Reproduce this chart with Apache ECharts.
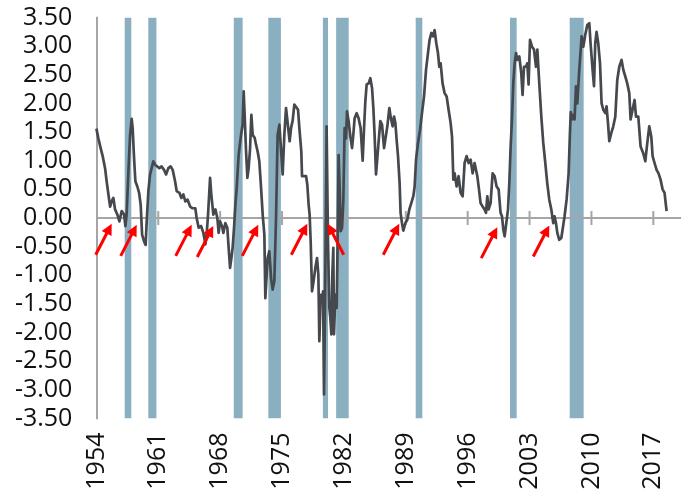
<!DOCTYPE html>
<html>
<head>
<meta charset="utf-8">
<script src="https://cdn.jsdelivr.net/npm/echarts/dist/echarts.min.js"></script>
<style>
html,body{margin:0;padding:0;background:#fff;}
#chart{width:681px;height:497px;}
</style>
</head>
<body>
<div id="chart"></div>
<script>
// ---- data ----
// spread value by date (decimal year)
const spreadByDate = [
[1954.38,1.56],[1954.60,1.39],[1954.86,1.22],[1955.09,1.08],[1955.36,0.87],[1955.54,0.64],[1955.74,0.41],[1955.93,0.20],[1956.11,0.29],[1956.30,0.35],[1956.49,0.15],[1956.75,0.06],[1956.98,-0.06],[1957.24,0.12],[1957.51,0.06],[1957.66,-0.14],[1957.80,0.06],[1958.00,0.81],[1958.19,1.45],[1958.37,1.73],[1958.48,1.57],[1958.64,1.05],[1958.79,0.64],[1959.01,0.55],[1959.21,0.44],[1959.39,0.23],[1959.55,-0.29],[1959.77,-0.41],[1959.95,-0.47],[1960.07,-0.06],[1960.26,0.47],[1960.45,0.76],[1960.63,0.87],[1960.82,0.99],[1961.02,0.93],[1961.20,0.90],[1961.50,0.87],[1961.76,0.90],[1962.03,0.84],[1962.26,0.76],[1962.52,0.87],[1962.78,0.90],[1963.01,0.84],[1963.28,0.64],[1963.46,0.47],[1963.77,0.44],[1963.99,0.35],[1964.22,0.41],[1964.44,0.29],[1964.70,0.32],[1964.98,0.20],[1965.27,0.17],[1965.57,0.17],[1965.72,0.0],[1965.95,-0.17],[1966.22,-0.14],[1966.48,-0.26],[1966.71,-0.46],[1966.85,-0.29],[1967.01,0.06],[1967.24,0.70],[1967.38,0.41],[1967.61,0.06],[1967.84,0.15],[1968.06,0.0],[1968.21,-0.26],[1968.37,-0.06],[1968.59,-0.14],[1968.74,-0.26],[1968.97,-0.09],[1969.19,-0.17],[1969.34,-0.52],[1969.50,-0.87],[1969.65,-0.70],[1969.79,-0.52],[1969.95,-0.17],[1970.10,0.23],[1970.25,0.52],[1970.47,1.10],[1970.74,1.45],[1970.92,1.63],[1971.04,2.21],[1971.15,1.80],[1971.31,1.16],[1971.46,0.70],[1971.60,0.87],[1971.76,1.20],[1971.91,1.80],[1972.06,1.45],[1972.28,1.40],[1972.44,1.28],[1972.62,1.16],[1972.81,0.99],[1973.01,0.52],[1973.19,0.06],[1973.38,-0.29],[1973.49,-1.40],[1973.75,-0.70],[1973.94,-0.58],[1974.14,-1.05],[1974.32,-1.25],[1974.51,-1.10],[1974.70,0.0],[1974.88,1.45],[1975.08,1.63],[1975.27,1.66],[1975.45,0.76],[1975.64,1.45],[1975.83,1.92],[1976.01,1.92],[1976.24,1.34],[1976.40,1.57],[1976.58,1.70],[1976.77,1.98],[1976.96,1.95],[1977.19,1.89],[1977.34,1.57],[1977.56,1.16],[1977.64,0.73],[1977.82,0.70],[1978.10,0.73],[1978.24,0.58],[1978.39,0.23],[1978.50,0.06],[1978.62,-0.41],[1978.77,-1.28],[1978.95,-1.10],[1979.15,-0.87],[1979.34,-0.70],[1979.49,-0.99],[1979.60,-2.15],[1979.75,-1.34],[1979.90,-1.45],[1980.02,-1.28],[1980.13,-3.08],[1980.20,-2.15],[1980.31,-0.41],[1980.42,1.60],[1980.58,-0.41],[1980.73,-1.57],[1980.84,-1.74],[1980.96,-2.03],[1981.07,-0.99],[1981.18,-0.52],[1981.26,-2.03],[1981.41,-1.34],[1981.56,-1.57],[1981.67,-0.41],[1981.78,1.10],[1981.90,0.52],[1982.01,-0.23],[1982.17,-0.17],[1982.31,0.29],[1982.46,1.57],[1982.62,1.39],[1982.73,1.86],[1982.91,1.69],[1983.11,1.42],[1983.30,1.22],[1983.44,1.45],[1983.59,1.74],[1983.82,1.83],[1984.04,1.74],[1984.27,1.57],[1984.50,1.00],[1984.66,1.57],[1984.80,2.03],[1984.95,2.33],[1985.18,2.35],[1985.37,2.44],[1985.56,2.27],[1985.71,1.92],[1985.85,1.45],[1986.01,0.76],[1986.16,1.05],[1986.31,1.34],[1986.50,1.69],[1986.69,1.63],[1986.92,1.22],[1987.14,1.19],[1987.29,1.60],[1987.52,1.92],[1987.66,1.77],[1987.89,1.60],[1988.05,1.77],[1988.20,1.66],[1988.34,1.37],[1988.50,1.08],[1988.68,0.61],[1988.79,0.09],[1988.95,-0.09],[1989.10,-0.22],[1989.33,-0.09],[1989.55,-0.03],[1989.78,0.15],[1990.00,0.26],[1990.23,0.38],[1990.38,0.55],[1990.54,1.02],[1990.76,1.31],[1990.99,1.54],[1991.21,1.83],[1991.44,2.12],[1991.67,2.59],[1991.89,2.88],[1992.07,3.11],[1992.27,3.23],[1992.46,3.17],[1992.64,3.28],[1992.83,3.05],[1993.02,2.88],[1993.17,2.64],[1993.32,2.70],[1993.54,2.35],[1993.77,2.18],[1994.00,2.12],[1994.22,1.89],[1994.45,1.66],[1994.61,1.42],[1994.76,0.67],[1994.90,0.78],[1995.13,0.55],[1995.35,0.73],[1995.58,0.44],[1995.81,0.38],[1996.03,0.96],[1996.26,1.08],[1996.49,0.96],[1996.71,1.02],[1996.94,0.78],[1997.16,0.96],[1997.47,0.73],[1997.66,0.50],[1997.84,0.26],[1998.07,0.20],[1998.29,0.15],[1998.45,0.09],[1998.60,0.38],[1998.75,0.15],[1998.97,0.26],[1999.20,0.78],[1999.43,0.73],[1999.65,0.55],[1999.88,0.50],[2000.10,0.09],[2000.26,0.03],[2000.41,-0.20],[2000.56,-0.32],[2000.78,-0.35],[2000.94,0.15],[2001.09,0.61],[2001.24,1.25],[2001.39,1.72],[2001.54,2.35],[2001.69,2.70],[2001.85,2.88],[2001.99,2.76],[2002.22,2.82],[2002.44,2.53],[2002.59,2.15],[2002.75,2.64],[2002.98,2.64],[2003.12,2.70],[2003.27,2.33],[2003.43,3.11],[2003.66,2.99],[2003.88,2.94],[2004.11,2.64],[2004.26,2.94],[2004.48,2.35],[2004.71,1.77],[2004.93,1.31],[2005.16,0.96],[2005.38,0.61],[2005.61,0.32],[2005.84,0.15],[2006.06,-0.09],[2006.21,0.03],[2006.37,-0.09],[2006.52,-0.26],[2006.74,-0.38],[2006.97,-0.35],[2007.12,-0.20],[2007.34,0.03],[2007.57,0.32],[2007.80,0.78],[2007.93,1.40],[2008.04,1.85],[2008.18,1.72],[2008.33,1.80],[2008.47,1.72],[2008.63,2.30],[2008.78,2.00],[2009.01,2.60],[2009.27,3.17],[2009.46,2.99],[2009.68,3.20],[2009.91,3.37],[2010.14,3.40],[2010.28,3.05],[2010.51,2.59],[2010.67,2.30],[2010.81,3.05],[2010.96,3.25],[2011.15,3.05],[2011.35,2.70],[2011.53,2.00],[2011.72,1.89],[2011.95,1.83],[2012.09,1.95],[2012.25,1.66],[2012.40,1.34],[2012.62,1.48],[2012.85,1.60],[2013.08,1.77],[2013.30,2.41],[2013.53,2.64],[2013.79,2.76],[2013.98,2.59],[2014.21,2.47],[2014.43,2.35],[2014.66,2.18],[2014.81,1.72],[2015.03,1.89],[2015.26,2.06],[2015.42,1.77],[2015.68,1.77],[2015.94,1.25],[2016.24,1.13],[2016.47,0.99],[2016.70,1.31],[2016.92,1.60],[2017.15,1.42],[2017.30,1.08],[2017.52,0.96],[2017.75,0.84],[2017.97,0.78],[2018.20,0.67],[2018.43,0.50],[2018.65,0.44],[2018.88,0.12]
];

// recession periods (decimal years)
const recessionStart = [1957.58, 1960.25, 1969.92, 1973.83, 1980.00, 1981.50, 1990.50, 2001.17, 2007.92];
const recessionEnd   = [1958.33, 1961.17, 1970.92, 1975.25, 1980.58, 1982.92, 1991.25, 2001.92, 2009.50];

// arrow annotations: tip date, tip value, direction (+1 points up-right, -1 points up-left)
const arrowDate  = [1956.11, 1958.94, 1965.16, 1967.60, 1972.69, 1978.24, 1980.55, 1988.64, 1999.73, 2005.61];
const arrowValue = [-0.10, -0.12, -0.12, -0.14, -0.12, -0.10, -0.10, -0.10, -0.16, -0.13];
const arrowDir   = [1, 1, 1, 1, 1, 1, -1, 1, 1, 1];

// axis tick labels (one every 7 years)
const tickLabels = ['1954','1961','1968','1975','1982','1989','1996','2003','2010','2017'];
const yMin = -3.5, yMax = 3.5, yStep = 0.5;

// ---- chart ----
const AXIS_START = 1954.38;           // date at the left edge of the plot
const MONTHS_PER_LABEL = 84;          // 7 years
const X_MAX = 840;
const toX = yr => (yr - AXIS_START) * 12;

const FONT = '"Open Sans", "DejaVu Sans", sans-serif';
const AXIS_GRAY = '#a5a5a5';

const chart = echarts.init(document.getElementById('chart'), null, {renderer: 'canvas'});

const option = {
  animation: false,
  backgroundColor: '#ffffff',
  grid: {left: 96.4, top: 17.5, bottom: 78.5, width: 618.8, containLabel: false, outerBoundsMode: 'none'},
  xAxis: {
    type: 'value', min: 0, max: X_MAX, interval: MONTHS_PER_LABEL, position: 'bottom',
    axisLine: {show: false, onZero: false},
    axisTick: {show: false},
    splitLine: {show: false},
    axisLabel: {
      rotate: 90, margin: 14, fontSize: 25, fontFamily: FONT, color: '#111',
      showMinLabel: true, showMaxLabel: true, hideOverlap: false,
      formatter: v => {
        const i = Math.round(v / MONTHS_PER_LABEL);
        return (Math.abs(v - i * MONTHS_PER_LABEL) < 1e-6 && tickLabels[i]) ? tickLabels[i] : '';
      }
    }
  },
  yAxis: {
    type: 'value', min: yMin, max: yMax, interval: yStep,
    axisLine: {show: true, onZero: false, lineStyle: {color: AXIS_GRAY, width: 2}},
    axisTick: {show: false},
    splitLine: {show: false},
    axisLabel: {
      margin: 24, fontSize: 25, fontFamily: FONT, color: '#111',
      showMinLabel: true, showMaxLabel: true,
      formatter: v => v.toFixed(2)
    }
  },
  series: [
    {
      type: 'custom', name: 'recessions', z: 1, clip: true,
      encode: {x: [0, 1]},
      data: recessionStart.map((s, i) => [toX(s), toX(recessionEnd[i])]),
      renderItem: (params, api) => {
        const a = api.coord([api.value(0), yMax]);
        const b = api.coord([api.value(1), yMin]);
        return {type: 'rect', shape: {x: a[0], y: a[1], width: b[0] - a[0], height: b[1] - a[1]},
                style: {fill: '#89afc1'}};
      }
    },
    {
      // zero line with crossing ticks at each labelled year
      type: 'custom', name: 'zeroAxis', z: 2, clip: false, silent: true,
      encode: {x: 0, y: 1},
      data: tickLabels.map((_, i) => [i * MONTHS_PER_LABEL, 0]),
      renderItem: (params, api) => {
        const p = api.coord([api.value(0), api.value(1)]);
        const children = [];
        if (params.dataIndex === 0) {
          const e = api.coord([X_MAX, 0]);
          children.push({type: 'line', shape: {x1: p[0], y1: p[1], x2: e[0], y2: e[1]},
                         style: {stroke: AXIS_GRAY, lineWidth: 2}});
        } else {
          children.push({type: 'line', shape: {x1: p[0], y1: p[1] - 7, x2: p[0], y2: p[1] + 7},
                         style: {stroke: AXIS_GRAY, lineWidth: 2}});
        }
        return {type: 'group', children};
      }
    },
    {
      type: 'line', name: 'spread', z: 3,
      showSymbol: false, symbol: 'none', clip: true,
      lineStyle: {color: '#45484d', width: 2.7, join: 'round'},
      data: spreadByDate.map(p => [toX(p[0]), p[1]])
    },
    {
      type: 'custom', name: 'arrows', z: 4, clip: false,
      encode: {x: 0, y: 1},
      data: arrowDate.map((d, i) => [toX(d), arrowValue[i], arrowDir[i]]),
      renderItem: (params, api) => {
        const tip = api.coord([api.value(0), api.value(1)]);
        const dir = api.value(2);
        const tail = [tip[0] - 16 * dir, tip[1] + 31];
        const dx = tip[0] - tail[0], dy = tip[1] - tail[1];
        const len = Math.sqrt(dx * dx + dy * dy);
        const ux = dx / len, uy = dy / len;
        const headL = 11, headW = 5.5;
        const bx = tip[0] - ux * headL, by = tip[1] - uy * headL;
        const nx = -uy, ny = ux;
        return {type: 'group', children: [
          {type: 'line', shape: {x1: tail[0], y1: tail[1], x2: bx + ux * 2, y2: by + uy * 2},
           style: {stroke: '#ff0000', lineWidth: 3}},
          {type: 'polygon', shape: {points: [[tip[0], tip[1]], [bx + nx * headW, by + ny * headW], [bx - nx * headW, by - ny * headW]]},
           style: {fill: '#ff0000'}}
        ]};
      }
    }
  ]
};
chart.setOption(option);
</script>
</body>
</html>
